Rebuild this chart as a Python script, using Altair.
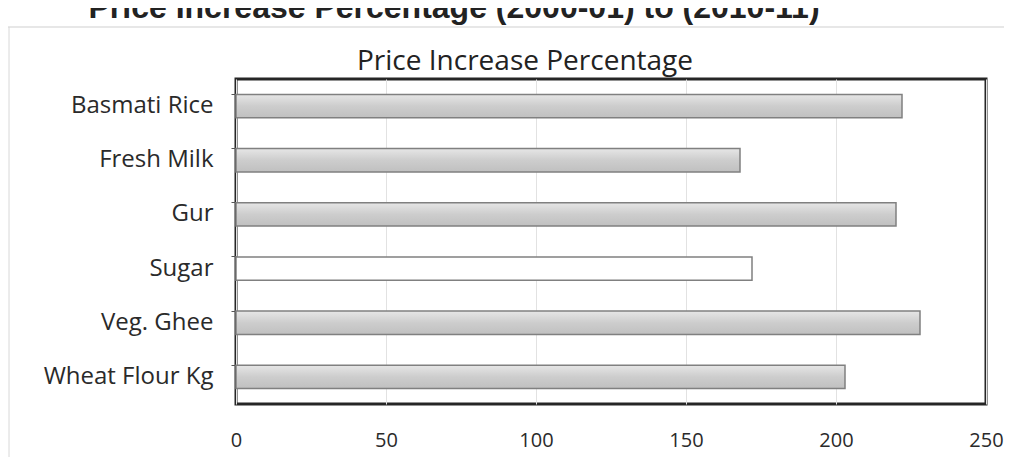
import altair as alt
import pandas as pd

# ---- data ----
items = ["Basmati Rice", "Fresh Milk", "Gur", "Sugar", "Veg. Ghee", "Wheat Flour Kg"]
values = [222, 168, 220, 172, 228, 203]
x_ticks = [0, 50, 100, 150, 200, 250]
chart_title = "Price Increase Percentage"
page_title = "Price Increase Percentage (2000-01) to (2010-11)"

df = pd.DataFrame({"item": items, "value": values})

W, H = 750, 325
PAD_L, PAD_T, PAD_R, PAD_B = 228, 71, 18, 53
FONT = "Open Sans"
TXT = "#2a2a2a"

bar_grad = alt.LinearGradient(
    gradient="linear",
    stops=[
        alt.GradientStop(color="#e6e6e6", offset=0),
        alt.GradientStop(color="#cdcdcd", offset=0.5),
        alt.GradientStop(color="#c0c0c0", offset=1),
    ],
    x1=0, x2=0, y1=0, y2=1,
)

bars = alt.Chart(df).mark_bar(stroke="#808080", strokeWidth=1.5).encode(
    x=alt.X(
        "value:Q",
        scale=alt.Scale(domain=[0, 250], nice=False),
        axis=alt.Axis(
            values=x_ticks, title=None, grid=True, gridColor="#e2e2e2",
            ticks=False, domain=False, labelPadding=26, labelFontSize=20,
            labelFont=FONT, labelColor=TXT, labelFlush=False,
        ),
    ),
    y=alt.Y(
        "item:N",
        sort=items,
        scale=alt.Scale(paddingInner=0.57, paddingOuter=0.285),
        axis=alt.Axis(
            title=None, domain=False, ticks=True, tickSize=5, tickColor="#555555",
            bandPosition=0, labelPadding=18, labelFontSize=24,
            labelFont=FONT, labelColor=TXT,
        ),
    ),
    fill=alt.condition("datum.item === 'Sugar'", alt.value("#ffffff"), alt.value(bar_grad)),
)

one = pd.DataFrame({"k": [0]})

page_title_mark = alt.Chart(pd.DataFrame({"t": [page_title]})).mark_text(
    font="Liberation Sans", fontWeight="bold", fontSize=32, color="#222222",
    align="center", baseline="alphabetic",
).encode(text="t:N", x=alt.value(454 - 8 - PAD_L), y=alt.value(-61))

chart_title_mark = alt.Chart(pd.DataFrame({"t": [chart_title]})).mark_text(
    font=FONT, fontSize=28, color="#222222", align="center", baseline="alphabetic",
).encode(text="t:N", x=alt.value(525 - 8 - PAD_L), y=alt.value(-9))

frame_top = alt.Chart(one).mark_rule(color="#cfcfcf", strokeWidth=1).encode(
    x=alt.value(-PAD_L), x2=alt.value(W + PAD_R), y=alt.value(-52)
)
frame_left = alt.Chart(one).mark_rule(color="#d8d8d8", strokeWidth=1).encode(
    x=alt.value(-PAD_L + 1), y=alt.value(-52), y2=alt.value(H + PAD_B)
)

chart = alt.layer(
    frame_top, frame_left, bars, page_title_mark, chart_title_mark
).properties(
    width=W,
    height=H,
    autosize=alt.AutoSizeParams(type="none"),
    padding={"left": PAD_L, "top": PAD_T, "right": PAD_R, "bottom": PAD_B},
).configure_view(stroke="#262626", strokeWidth=3)

chart.save("out.html", embed_options={"renderer": "svg", "actions": False})
